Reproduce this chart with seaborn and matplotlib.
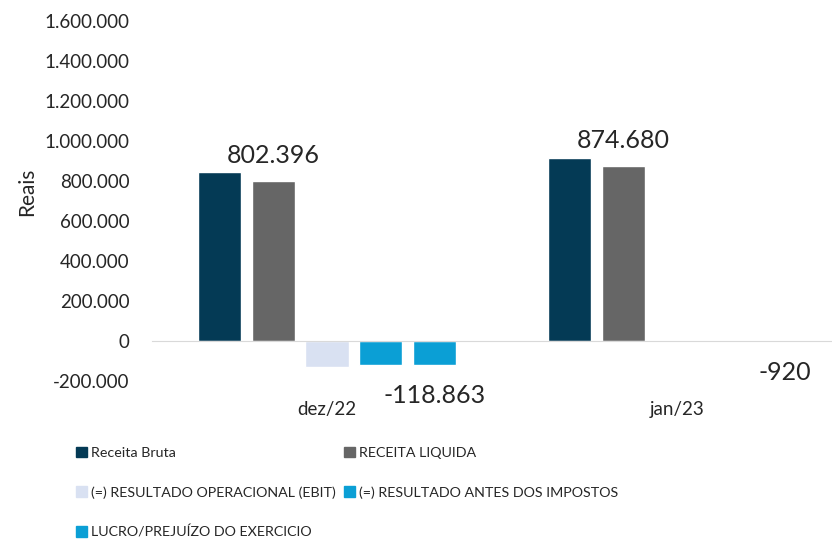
import pandas as pd
import matplotlib.pyplot as plt
import seaborn as sns
from matplotlib.patches import Patch
from matplotlib.ticker import FuncFormatter

# dados
periodos = ['dez/22', 'jan/23']
series = ['Receita Bruta', 'RECEITA LIQUIDA', '(=) RESULTADO OPERACIONAL (EBIT)',
          '(=) RESULTADO ANTES DOS IMPOSTOS', 'LUCRO/PREJUÍZO DO EXERCICIO']
receita_bruta = [846000, 917000]
receita_liquida = [802396, 874680]
ebit = [-130000, -920]
antes_impostos = [-118863, -920]
lucro = [-118863, -920]
cores = ['#043A55', '#666666', '#D9E1F2', '#0B9FD5', '#0B9FD5']

valores = [receita_bruta, receita_liquida, ebit, antes_impostos, lucro]
linhas = []
for s, vals in zip(series, valores):
    for p, v in zip(periodos, vals):
        linhas.append({'periodo': p, 'serie': s, 'valor': v})
df = pd.DataFrame(linhas)

sns.set_style('white')
plt.rcParams['font.family'] = ['Lato', 'DejaVu Sans']

fig = plt.figure(figsize=(8.32, 5.41), dpi=100)
ax = fig.add_axes([152/832, 160/541, 700/832, 360/541])

sns.barplot(data=df, x='periodo', y='valor', hue='serie', hue_order=series,
            palette=dict(zip(series, cores)), width=0.77, gap=0.2,
            legend=False, ax=ax, saturation=1)

ax.set_ylim(-200000, 1600000)
ax.set_xlim(-0.5, 1.5)
ax.set_yticks(range(-200000, 1600001, 200000))
fmt = lambda v, pos: f'{v:,.0f}'.replace(',', '.')
ax.yaxis.set_major_formatter(FuncFormatter(fmt))
ax.tick_params(axis='y', length=0, pad=16, labelsize=13.5)
ax.set_ylabel('Reais', fontsize=15)
ax.yaxis.set_label_coords(-115/700, 0.525)
ax.set_xlabel('')

for side in ['left', 'right', 'top']:
    ax.spines[side].set_visible(False)
ax.spines['bottom'].set_position(('data', 0))
ax.spines['bottom'].set_color('#D9D9D9')
ax.tick_params(axis='x', which='major', length=0, pad=43, labelsize=13.5)
ax.set_xticks([-0.5, 0.5, 1.5], minor=True)
ax.tick_params(axis='x', which='minor', length=5, color='#D9D9D9', direction='out')

# rótulos de dados (RECEITA LIQUIDA e LUCRO)
ax.bar_label(ax.containers[1], labels=[fmt(v, 0) for v in receita_liquida],
             padding=10, fontsize=18)
ax.bar_label(ax.containers[4], labels=[fmt(v, 0) for v in lucro],
             padding=14, fontsize=18)

ordem = [0, 2, 4, 1, 3]
handles = [Patch(color=cores[i], label=series[i]) for i in ordem]
fig.legend(handles=handles, ncol=2, loc='upper left', bbox_to_anchor=(63/832, 1 - 434/541),
           frameon=False, fontsize=10.3, handlelength=0.75, handleheight=0.75,
           handletextpad=0.3, labelspacing=1.88, columnspacing=0.6)

fig.savefig('out.png', dpi=100)
